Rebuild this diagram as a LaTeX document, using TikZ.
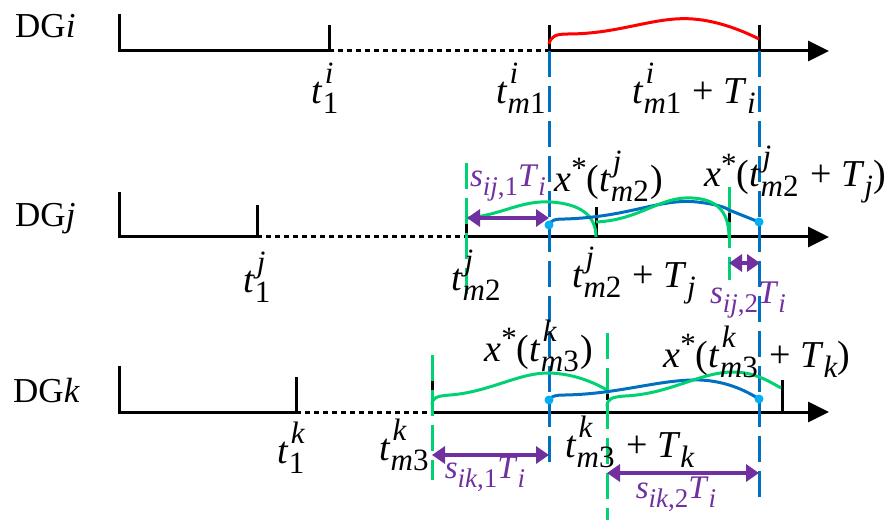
\documentclass[tikz,border=0pt]{standalone}
\usepackage{fontspec}
\setmainfont{Liberation Serif}
\usetikzlibrary{arrows.meta}
\definecolor{cblue}{RGB}{0,112,192}
\definecolor{cdot}{RGB}{0,176,240}
\definecolor{cgreen}{RGB}{0,210,115}
\definecolor{cpurple}{RGB}{112,48,160}
\def\scrsz{31}
\newcommand{\scr}{\fontsize{\scrsz}{\scrsz}\selectfont}
\newcommand{\SUPSUB}[2]{%
  \setbox0=\hbox{\scr\itshape #1}%
  \setbox2=\hbox{\scr #2}%
  \ifdim\wd0>\wd2 \dimen0=\wd0 \else \dimen0=\wd2 \fi
  \advance\dimen0 by 2pt
  \hbox to \dimen0{\rlap{\kern2pt\raise 0.52em\box0}\lower 0.27em\box2\hss}}
\newcommand{\SUB}[1]{\lower 0.27em\hbox{\scr #1}}
\newcommand{\STAR}{\raise 0.33em\hbox{\scr *}}
\begin{document}
\begin{tikzpicture}[x=1pt,y=-1pt,
  axis/.style={line width=3pt,black,line join=miter},
  dots/.style={line width=3pt,dash pattern=on 5pt off 4pt},
  bdash/.style={cblue,line width=3pt,dash pattern=on 26pt off 9pt},
  gdash/.style={cgreen,line width=3pt,dash pattern=on 26pt off 9pt},
  arr/.style={-{Triangle[length=21pt,width=20pt]}},
  redc/.style={red,line width=3pt},
  bluec/.style={cblue,line width=3pt},
  greenc/.style={cgreen,line width=3pt},
  pdot/.style={circle,fill=cdot,inner sep=0pt,minimum size=9pt},
  parrow/.style={cpurple,line width=4pt,{Triangle[length=13pt,width=17pt]}-{Triangle[length=13pt,width=17pt]}},
  lab/.style={font=\fontsize{38}{44}\selectfont\def\scrsz{31},inner sep=0pt},
  dglab/.style={font=\fontsize{35}{40}\selectfont,inner sep=0pt,anchor=base west},
  plab/.style={font=\fontsize{33}{38}\selectfont\def\scrsz{27},inner sep=0pt,text=cpurple}]
\useasboundingbox (0,0) rectangle (888,529);

% ---------- coordinates ----------
\coordinate (iS) at (119,14);  \coordinate (iO) at (119,51);
\coordinate (i1) at (329,51);  \coordinate (i1t) at (329,25);
\coordinate (im) at (549,51);  \coordinate (imt) at (549,25);
\coordinate (iT) at (759,51);  \coordinate (iTt) at (759,25);
\coordinate (iE) at (829,51);

\coordinate (jS) at (119,192); \coordinate (jO) at (119,237);
\coordinate (j1) at (257,237); \coordinate (j1t) at (257,205);
\coordinate (jm) at (466,237); \coordinate (jmt) at (466,205);
\coordinate (jT) at (596,237); \coordinate (jTt) at (596,207);
\coordinate (jE) at (829,237);

\coordinate (kS) at (119,366); \coordinate (kO) at (119,412);
\coordinate (k1) at (296,412); \coordinate (k1t) at (296,377);
\coordinate (km) at (432,412); \coordinate (kmt) at (432,378);
\coordinate (kT) at (607,400); \coordinate (kTt) at (607,377);
\coordinate (kX) at (782,412); \coordinate (kXt) at (782,380);
\coordinate (kE) at (829,412);

% ---------- black axes ----------
\draw[axis] (iS) -- (iO) -- (i1) -- (i1t);
\draw[axis,dots] (i1) -- (im);
\draw[axis,arr] (im) -- (iE);
\draw[axis] (imt) -- (im);
\draw[axis] (iTt) -- (iT);

\draw[axis] (jS) -- (jO) -- (j1) -- (j1t);
\draw[axis,dots] (j1) -- (jm);
\draw[axis,arr] (jm) -- (jE);
\draw[axis] (jmt) -- (jm);
\draw[axis] (jTt) -- (jT);
\draw[axis] (729,208) -- (729,222);

\draw[axis] (kS) -- (kO) -- (k1) -- (k1t);
\draw[axis,dots] (k1) -- (km);
\draw[axis,arr] (km) -- (kE);
\draw[axis] (kmt) -- (km);
\draw[axis] (kTt) -- (kT);
\draw[axis] (kXt) -- (kX);

% ---------- vertical dashed lines ----------
\coordinate (b1top) at (549,51);  \coordinate (b1bot) at (549,467);
\coordinate (b2top) at (759,51);  \coordinate (b2bot) at (759,505);
\draw[bdash] (b1top) -- (b1bot);
\draw[bdash] (b2top) -- (b2bot);
\draw[gdash] (466,163) -- (466,295);
\draw[gdash] (729,187) -- (729,280);
\draw[gdash] (432,355) -- (432,480);
\draw[gdash] (607,333) -- (607,520);

% ---------- curves ----------
\draw[redc] (549,44) .. controls (551,36) and (556,34) .. (568,34)
  .. controls (620,34) and (655,16) .. (693,19)
  .. controls (720,21) and (745,32) .. (759,39);

\draw[greenc] (466,218) .. controls (500,216) and (520,200) .. (551,202)
  .. controls (580,204) and (596,215) .. (596,237);
\draw[bluec] (549,225) .. controls (551,220) and (555,219) .. (565,219)
  .. controls (630,217) and (660,198) .. (697,202)
  .. controls (715,204) and (725,207) .. (729,210) -- (759,222);
\draw[greenc] (596,222) .. controls (640,220) and (660,196) .. (692,198)
  .. controls (715,199) and (729,210) .. (729,237);

\draw[greenc] (432,405) .. controls (432,398) and (436,396) .. (450,395)
  .. controls (490,392) and (520,372) .. (550,373)
  .. controls (575,374) and (595,383) .. (607,390);
\draw[bluec] (549,400) .. controls (551,396) and (556,395) .. (565,395)
  .. controls (620,394) and (660,379) .. (700,380)
  .. controls (725,381) and (745,390) .. (759,399);
\draw[greenc] (607,407) .. controls (607,399) and (611,397) .. (625,396)
  .. controls (670,394) and (700,372) .. (733,372)
  .. controls (755,372) and (770,382) .. (781,388);

% ---------- dots ----------
\node[pdot] (dj1) at (549,225) {};
\node[pdot] (dj2) at (759,222) {};
\node[pdot] (dk1) at (549,400) {};
\node[pdot] (dk2) at (759,399) {};

% ---------- purple arrows ----------
\coordinate (pa1) at (467,218); \coordinate (pa2) at (549,218);
\coordinate (pb1) at (729,263); \coordinate (pb2) at (760,263);
\coordinate (pc1) at (432,455); \coordinate (pc2) at (549,455);
\coordinate (pd1) at (607,473); \coordinate (pd2) at (759,473);
\draw[parrow] (pa1) -- (pa2);
\draw[parrow] (pb1) -- (pb2);
\draw[parrow] (pc1) -- (pc2);
\draw[parrow] (pd1) -- (pd2);

% ---------- labels ----------
\node[dglab] (DGi) at (15,38) {DG\textit{i}};
\node[dglab] (DGj) at (15,227) {DG\textit{j}};
\node[dglab] (DGk) at (13,402) {DG\textit{k}};

\node[lab] (ti1) at (326,88) {\textit{t}\SUPSUB{i}{1}};
\node[lab] (tim) at (522,88) {\textit{t}\SUPSUB{i}{\textit{m}1}};
\node[lab] (timT) at (694,88) {\textit{t}\SUPSUB{i}{\textit{m}1} + \textit{T}\SUB{\textit{i}}};

\node[lab] (tj1) at (258,277) {\textit{t}\SUPSUB{j}{1}};
\node[lab] (tjm) at (477,275) {\textit{t}\SUPSUB{j}{\textit{m}2}};
\node[lab] (tjmT) at (634,276) {\textit{t}\SUPSUB{j}{\textit{m}2} + \textit{T}\SUB{\textit{j}}};
\node[lab] (xj1) at (609,176) {\textit{x}\STAR(\textit{t}\SUPSUB{j}{\textit{m}2})};
\node[lab] (xj2) at (795,175) {\textit{x}\STAR(\textit{t}\SUPSUB{j}{\textit{m}2} + \textit{T}\SUB{\textit{j}})};

\node[lab] (tk1) at (292,448) {\textit{t}\SUPSUB{k}{1}};
\node[lab] (tkm) at (405,445) {\textit{t}\SUPSUB{k}{\textit{m}3}};
\node[lab] (tkmT) at (630,442) {\textit{t}\SUPSUB{k}{\textit{m}3} + \textit{T}\SUB{\textit{k}}};
\node[lab] (xk1) at (539,346) {\textit{x}\STAR(\textit{t}\SUPSUB{k}{\textit{m}3})};
\node[lab] (xk2) at (757,352) {\textit{x}\STAR(\textit{t}\SUPSUB{k}{\textit{m}3} + \textit{T}\SUB{\textit{k}})};

\node[plab] (sij1) at (508,183) {\textit{s}\SUB{\textit{ij},1}\textit{T}\SUB{\textit{i}}};
\node[plab] (sij2) at (748,300) {\textit{s}\SUB{\textit{ij},2}\textit{T}\SUB{\textit{i}}};
\node[plab] (sik1) at (485,474) {\textit{s}\SUB{\textit{ik},1}\textit{T}\SUB{\textit{i}}};
\node[plab] (sik2) at (676,494) {\textit{s}\SUB{\textit{ik},2}\textit{T}\SUB{\textit{i}}};
\end{tikzpicture}
\end{document}
